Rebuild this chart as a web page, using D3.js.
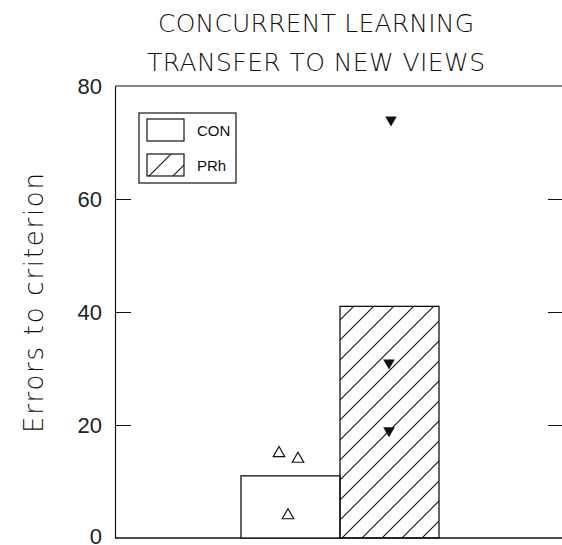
<!DOCTYPE html>
<html>
<head>
<meta charset="utf-8">
<script src="https://cdn.jsdelivr.net/npm/d3@7"></script>
<style>
  body { margin: 0; background: #fff; }
</style>
</head>
<body>
<div id="chart"></div>
<script>
// data
var groups = ["CON", "PRh"];
var means = [11, 41];
var conPoints = [15, 14, 4];
var prhPoints = [74, 31, 19];
var yTicks = [0, 20, 40, 60, 80];
var titleLines = ["CONCURRENT LEARNING", "TRANSFER TO NEW VIEWS"];

var W = 562, H = 545;
var margin = { left: 115, top: 86, bottom: 538 };

var svg = d3.select("#chart").append("svg")
  .attr("width", W).attr("height", H);

var defs = svg.append("defs");
defs.append("pattern")
  .attr("id", "hatch")
  .attr("patternUnits", "userSpaceOnUse")
  .attr("width", 20).attr("height", 20)
  .append("path")
  .attr("d", "M-5,5 L5,-5 M0,20 L20,0 M15,25 L25,15")
  .attr("stroke", "#111").attr("stroke-width", 1.1);
defs.append("pattern")
  .attr("id", "hatchLegend")
  .attr("patternUnits", "userSpaceOnUse")
  .attr("x", 147).attr("y", 154)
  .attr("width", 24).attr("height", 24)
  .append("path")
  .attr("d", "M-6,6 L6,-6 M0,24 L24,0 M18,30 L30,18")
  .attr("stroke", "#111").attr("stroke-width", 1.1);

var y = d3.scaleLinear().domain([0, 80]).range([margin.bottom, margin.top]);
var x = d3.scaleBand().domain(groups).range([241, 439]).padding(0);

// title
svg.selectAll(".title")
  .data(titleLines)
  .join("text")
  .attr("class", "title")
  .attr("x", 316)
  .attr("y", (d, i) => 32 + i * 39)
  .attr("text-anchor", "middle")
  .style("font-family", "DejaVu Sans, sans-serif")
  .style("font-weight", 200)
  .style("font-size", "25px")
  .style("fill", "#111")
  .attr("textLength", (d, i) => i == 0 ? 316 : 338)
  .text(d => d);

// y label
svg.append("text")
  .attr("transform", "translate(43,303) rotate(-90)")
  .attr("text-anchor", "middle")
  .style("font-family", "DejaVu Sans, sans-serif")
  .style("font-weight", 200)
  .style("font-size", "26px")
  .style("fill", "#111")
  .attr("textLength", 260)
  .text("Errors to criterion");

// frame lines
svg.append("line")
  .attr("x1", margin.left).attr("x2", W)
  .attr("y1", y(80)).attr("y2", y(80))
  .attr("stroke", "#111").attr("stroke-width", 1.2);
svg.append("line")
  .attr("x1", margin.left).attr("x2", W)
  .attr("y1", y(0)).attr("y2", y(0))
  .attr("stroke", "#111").attr("stroke-width", 1.5);

// left axis
var leftAxis = svg.append("g")
  .attr("transform", `translate(${margin.left},0)`)
  .call(d3.axisLeft(y).tickValues(yTicks).tickSizeInner(-16).tickSizeOuter(0).tickPadding(13));
leftAxis.select(".domain").attr("stroke", "#111").attr("stroke-width", 1.2);
leftAxis.selectAll(".tick line")
  .attr("stroke", "#111")
  .attr("display", d => (d == 0 || d == 80) ? "none" : null);
leftAxis.selectAll(".tick text")
  .style("font-family", "Liberation Sans, Arial, sans-serif")
  .style("font-size", "22px")
  .style("fill", "#222")
  .attr("dy", d => d == 0 ? "5px" : "0.34em");

// right axis (ticks only)
var rightAxis = svg.append("g")
  .attr("transform", `translate(${W},0)`)
  .call(d3.axisRight(y).tickValues([20, 40, 60]).tickSizeInner(-14).tickSizeOuter(0).tickFormat(""));
rightAxis.select(".domain").remove();
rightAxis.selectAll(".tick line").attr("stroke", "#111");

// bars
svg.selectAll(".bar")
  .data(groups)
  .join("rect")
  .attr("class", "bar")
  .attr("x", d => x(d))
  .attr("y", (d, i) => y(means[i]))
  .attr("width", x.bandwidth())
  .attr("height", (d, i) => y(0) - y(means[i]))
  .attr("fill", (d, i) => i == 0 ? "#fff" : "url(#hatch)")
  .attr("stroke", "#111")
  .attr("stroke-width", 1.3);

// individual points
var tri = d3.symbol().type(d3.symbolTriangle).size(58);
var conJitter = [-11.5, 7.5, -2.5];
var prhJitter = [1.5, -0.5, -0.5];

svg.selectAll(".con-pt")
  .data(conPoints)
  .join("path")
  .attr("class", "con-pt")
  .attr("d", tri)
  .attr("transform", (d, i) => `translate(${x("CON") + x.bandwidth() / 2 + conJitter[i]},${y(d)})`)
  .attr("fill", "#fff")
  .attr("stroke", "#111")
  .attr("stroke-width", 1.2);

svg.selectAll(".prh-pt")
  .data(prhPoints)
  .join("path")
  .attr("class", "prh-pt")
  .attr("d", tri)
  .attr("transform", (d, i) => `translate(${x("PRh") + x.bandwidth() / 2 + prhJitter[i]},${y(d)}) rotate(180)`)
  .attr("fill", "#111");

// legend
var lg = svg.append("g");
lg.append("rect")
  .attr("x", 139).attr("y", 113).attr("width", 97).attr("height", 70)
  .attr("fill", "#fff").attr("stroke", "#111").attr("stroke-width", 1.2);
lg.selectAll(".sw")
  .data(groups)
  .join("rect")
  .attr("class", "sw")
  .attr("x", 147)
  .attr("y", (d, i) => 119 + i * 35)
  .attr("width", 37).attr("height", 22)
  .attr("fill", (d, i) => i == 0 ? "#fff" : "url(#hatchLegend)")
  .attr("stroke", "#111").attr("stroke-width", 1.2);
lg.selectAll(".lt")
  .data(groups)
  .join("text")
  .attr("class", "lt")
  .attr("x", 197)
  .attr("y", (d, i) => 136 + i * 35)
  .style("font-family", "Liberation Sans, Arial, sans-serif")
  .style("font-size", "15px")
  .style("fill", "#111")
  .text(d => d);
</script>
</body>
</html>
